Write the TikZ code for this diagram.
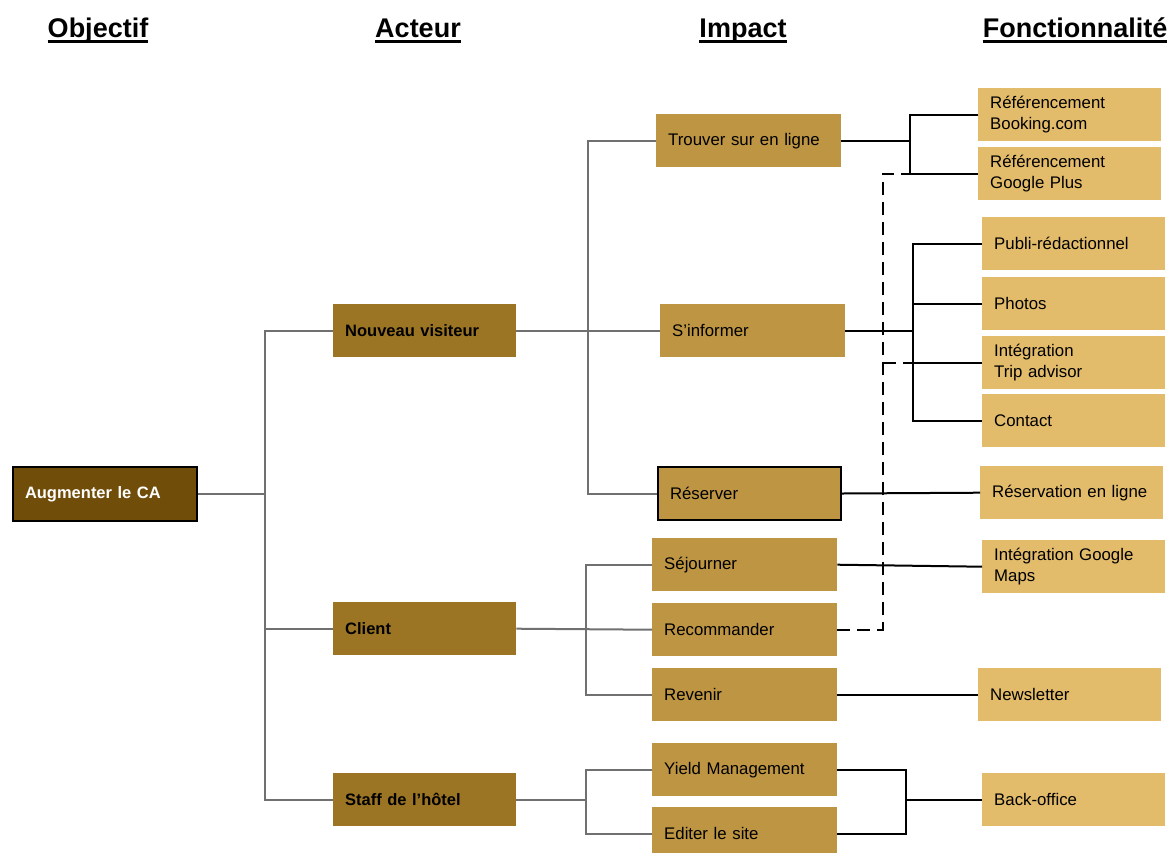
\documentclass[tikz,border=0pt]{standalone}
\usepackage{fontspec}
\setmainfont{Liberation Sans}
\definecolor{cobj}{RGB}{113,77,10}
\definecolor{cact}{RGB}{156,117,36}
\definecolor{cimp}{RGB}{189,149,67}
\definecolor{cfon}{RGB}{226,187,107}
\definecolor{cgl}{RGB}{112,112,112}
\begin{document}
\begin{tikzpicture}[x=1pt,y=-1pt,
  box/.style={rectangle, anchor=north west, inner ysep=0pt, inner xsep=12pt, align=left,
    minimum height=53pt, font=\fontsize{16.8}{20.5}\selectfont},
  objbox/.style={box, fill=cobj, draw=black, line width=2pt, text=white, text width=160pt,
    minimum height=54pt, font=\bfseries\fontsize{16.5}{20}\selectfont},
  actbox/.style={box, fill=cact, text width=159pt, font=\bfseries\fontsize{16.5}{20}\selectfont},
  impbox/.style={box, fill=cimp, text width=161pt},
  fonbox/.style={box, fill=cfon, text width=159pt},
  hdr/.style={inner sep=0pt, anchor=base, font=\bfseries\fontsize{27}{32}\selectfont},
  uline/.style={line width=2.2pt},
  gline/.style={draw=cgl, line width=2pt},
  bline/.style={draw=black, line width=2pt},
  dline/.style={draw=black, line width=2pt, dash pattern=on 13pt off 7pt}
]
\useasboundingbox (0,0) rectangle (1169,852);

% headers
\node[hdr] (h1) at (98,37) {Objectif};
\node[hdr] (h2) at (418,37) {Acteur};
\node[hdr] (h3) at (743,37) {Impact};
\node[hdr] (h4) at (1075,37) {Fonctionnalité};
\foreach \h in {h1,h2,h3,h4}
  \draw[uline] ([yshift=-4.5pt]\h.base west) -- ([yshift=-4.5pt]\h.base east);

% objective
\node[objbox] (aug) at (12,466) {Augmenter le CA};

% actors
\node[actbox] (nv) at (333,304) {Nouveau visiteur};
\node[actbox] (cl) at (333,602) {Client};
\node[actbox] (st) at (333,773) {Staff de l’hôtel};

% impacts
\node[impbox] (tr) at (656,114) {Trouver sur en ligne};
\node[impbox] (si) at (660,304) {S’informer};
\node[impbox, draw=black, line width=2pt, text width=159pt] (re) at (657,466) {Réserver};
\node[impbox] (sj) at (652,538) {Séjourner};
\node[impbox] (rc) at (652,603) {Recommander};
\node[impbox] (rv) at (652,668) {Revenir};
\node[impbox] (yi) at (652,743) {Yield Management};
\node[impbox] (ed) at (652,807) {Editer le site};

% features
\node[fonbox] (bk) at (978,88) {Référencement\\Booking.com};
\node[fonbox] (gp) at (978,147) {Référencement\\Google Plus};
\node[fonbox] (pu) at (982,217) {Publi-rédactionnel};
\node[fonbox] (ph) at (982,277) {Photos};
\node[fonbox] (ta) at (982,336) {Intégration\\Trip advisor};
\node[fonbox] (co) at (982,394) {Contact};
\node[fonbox] (rl) at (980,466) {Réservation en ligne};
\node[fonbox] (gm) at (982,540) {Intégration Google\\Maps};
\node[fonbox] (nl) at (978,668) {Newsletter};
\node[fonbox] (bo) at (982,773) {Back-office};

% junction x positions
\coordinate (j1) at (265,0);
\coordinate (j2) at (588,0);
\coordinate (j3) at (586,0);
\coordinate (j4) at (910,0);
\coordinate (j5) at (913,0);
\coordinate (j6) at (906,0);
\coordinate (j7) at (883,0);

% level 1
\draw[gline] (aug.east) -- (aug.east -| j1);
\draw[gline] (nv.west) -| (j1 |- st.west) -- (st.west);
\draw[gline] (cl.west) -- (cl.west -| j1);

% level 2
\draw[gline] (tr.west) -| (j2 |- re.west) -- (re.west);
\draw[gline] (nv.east) -- (si.west);
\draw[gline] (sj.west) -| (j3 |- rv.west) -- (rv.west);
\draw[gline] (cl.east) -- (rc.west);
\draw[gline] (yi.west) -| (j3 |- ed.west) -- (ed.west);
\draw[gline] (st.east) -- (st.east -| j3);

% level 3
\draw[bline] (bk.west) -| (j4 |- gp.west) -- (gp.west);
\draw[bline] (tr.east) -- (tr.east -| j4);
\draw[bline] (pu.west) -| (j5 |- co.west) -- (co.west);
\draw[bline] (si.east) -- (si.east -| j5);
\draw[bline] (ph.west) -- (ph.west -| j5);
\draw[bline] (ta.west) -- (ta.west -| j5);
\draw[bline] (re.east) -- (rl.west);
\draw[bline] (sj.east) -- (gm.west);
\draw[bline] (rv.east) -- (nl.west);
\draw[bline] (yi.east) -| (j6 |- ed.east) -- (ed.east);
\draw[bline] (bo.west) -- (bo.west -| j6);

% dashed
\draw[dline] (rc.east) -| (j7 |- gp.west) -- (gp.west -| j4);
\draw[dline] (ta.west -| j7) -- (ta.west -| j5);
\end{tikzpicture}
\end{document}
